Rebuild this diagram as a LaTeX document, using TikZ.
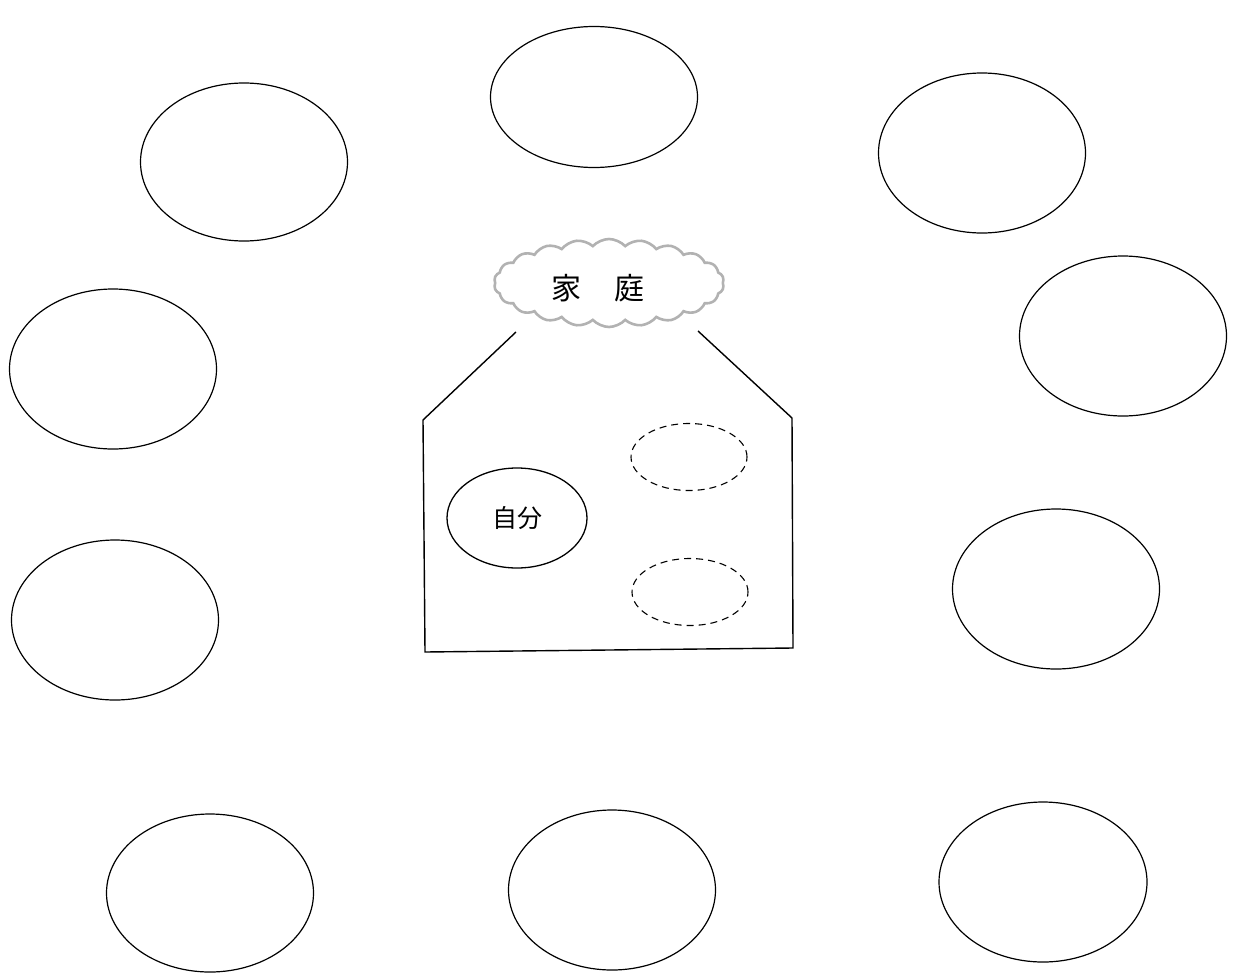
\documentclass[tikz,border=0pt]{standalone}
\usepackage{fontspec}
\newfontfamily\jpfont{Noto Sans CJK JP}
\usetikzlibrary{shapes.geometric,shapes.symbols}

\tikzset{
  bubble/.style={draw=black,ellipse,line width=1.2pt,inner sep=0pt,minimum width=207pt,minimum height=160pt},
  member/.style={draw=black,ellipse,line width=1.1pt,inner sep=0pt,dashed,dash pattern=on 7pt off 5pt,minimum width=116pt,minimum height=67pt},
  house/.style={draw=black,line width=1.4pt,line join=miter}
}

\begin{document}
\begin{tikzpicture}[x=1pt,y=-1pt]
\useasboundingbox (0,0) rectangle (1239,977);
% outer circle of bubbles:
\node[bubble,minimum height=141pt] (top) at (594,97) {};
\node[bubble,minimum height=158pt] (topleft) at (244,162) {};
\node[bubble] (topright) at (982,153) {};
\node[bubble] (leftup) at (113,369) {};
\node[bubble] (leftdown) at (115,620) {};
\node[bubble] (rightup) at (1123,336) {};
\node[bubble] (rightdown) at (1056,589) {};
\node[bubble,minimum height=158pt] (bottomleft) at (210,893) {};
\node[bubble] (bottom) at (612,890) {};
\node[bubble,minimum width=208pt] (bottomright) at (1043,882) {};
% the house:
\node[cloud,cloud puffs=22,cloud puff arc=95,cloud ignores aspect,draw=gray!60,line width=2.6pt,
      minimum width=230pt,minimum height=88pt,inner sep=0pt] (family) at (609,283) {};
\node[font=\jpfont\fontsize{30pt}{30pt}\selectfont] (familytext) at (598,288) {家\hspace{33pt}庭};
\path[house] (516,332) -- (423,420) -- (425,652) -- (793,648) -- (792,418) -- (698,331);
% inside the house:
\node[draw=black,ellipse,line width=1.3pt,inner sep=0pt,minimum width=140pt,minimum height=100pt,
      font=\jpfont\fontsize{25pt}{25pt}\selectfont] (self) at (517,518) {自分};
\node[member] (memberA) at (689,457) {};
\node[member] (memberB) at (690,592) {};
\end{tikzpicture}
\end{document}
